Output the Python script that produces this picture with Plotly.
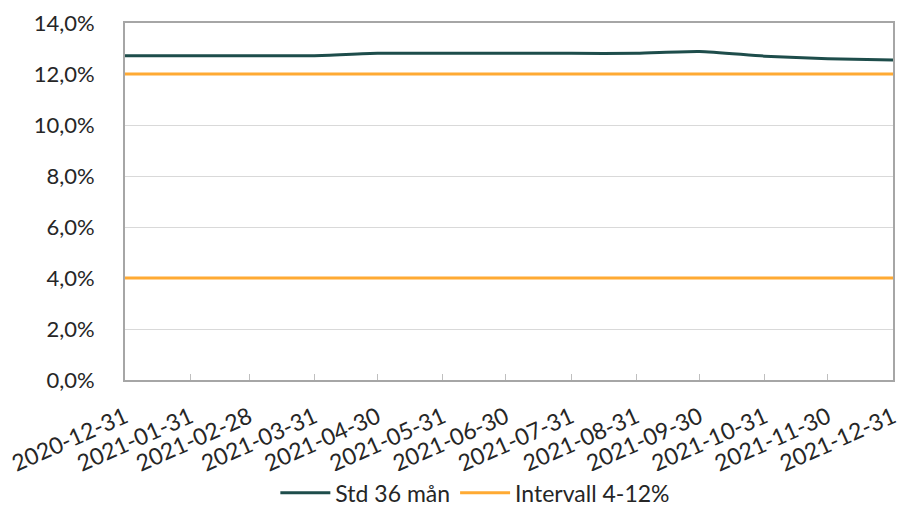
import plotly.graph_objects as go

dates = ["2020-12-31", "2021-01-31", "2021-02-28", "2021-03-31", "2021-04-30",
         "2021-05-31", "2021-06-30", "2021-07-31", "2021-08-31", "2021-09-30",
         "2021-10-31", "2021-11-30", "2021-12-31"]
std36 = [0.1272, 0.1272, 0.1272, 0.1272, 0.1281, 0.1281, 0.1281, 0.1281,
         0.1281, 0.1288, 0.1270, 0.1260, 0.1255]
interval_low = [0.04] * len(dates)
interval_high = [0.12] * len(dates)
y_ticks = [0, 0.02, 0.04, 0.06, 0.08, 0.10, 0.12, 0.14]

GREEN = "#1E4D4B"
ORANGE = "#FFAA33"
FONT = "Lato, 'Open Sans', sans-serif"

fig = go.Figure()
fig.add_trace(go.Scatter(x=dates, y=std36, name="Std 36 mån", mode="lines",
                         line=dict(color=GREEN, width=3, shape="spline", smoothing=0.6)))
fig.add_trace(go.Scatter(x=dates, y=interval_high, name="Intervall 4-12%", mode="lines",
                         legendgroup="int", line=dict(color=ORANGE, width=3)))
fig.add_trace(go.Scatter(x=dates, y=interval_low, name="Intervall 4-12%", mode="lines",
                         legendgroup="int", showlegend=False, line=dict(color=ORANGE, width=3)))

fig.update_layout(
    width=902, height=507,
    margin=dict(l=125, r=9, t=23, b=127, autoexpand=False),
    paper_bgcolor="white", plot_bgcolor="white",
    separators=",.",
    font=dict(family=FONT, size=22, color="#262626"),
    showlegend=True,
    legend=dict(orientation="h", xref="container", x=0.527, xanchor="center",
                yref="container", y=0.028, yanchor="middle",
                font=dict(size=23), itemwidth=50, tracegroupgap=0),
)
fig.update_xaxes(
    type="date", range=[dates[0], dates[-1]], automargin=False,
    tickvals=dates, ticktext=dates, tickangle=-24,
    showgrid=False, showline=True, linecolor="#A6A6A6", linewidth=2, mirror=True,
    ticks="inside", ticklen=6, tickcolor="#BFBFBF", tickfont=dict(size=23),
    ticklabelstandoff=13,
)
fig.update_yaxes(
    range=[0, 0.14], tickvals=y_ticks, tickformat=".1%", automargin=False,
    showgrid=True, gridcolor="#D9D9D9", gridwidth=1,
    showline=True, linecolor="#A6A6A6", linewidth=2, mirror=True,
    zeroline=False, ticks="", ticklabelstandoff=24, tickfont=dict(size=22),
)

fig.write_html("out.html", config={"displayModeBar": False},
               post_script="document.body.style.margin='0';document.body.style.overflow='hidden';")
